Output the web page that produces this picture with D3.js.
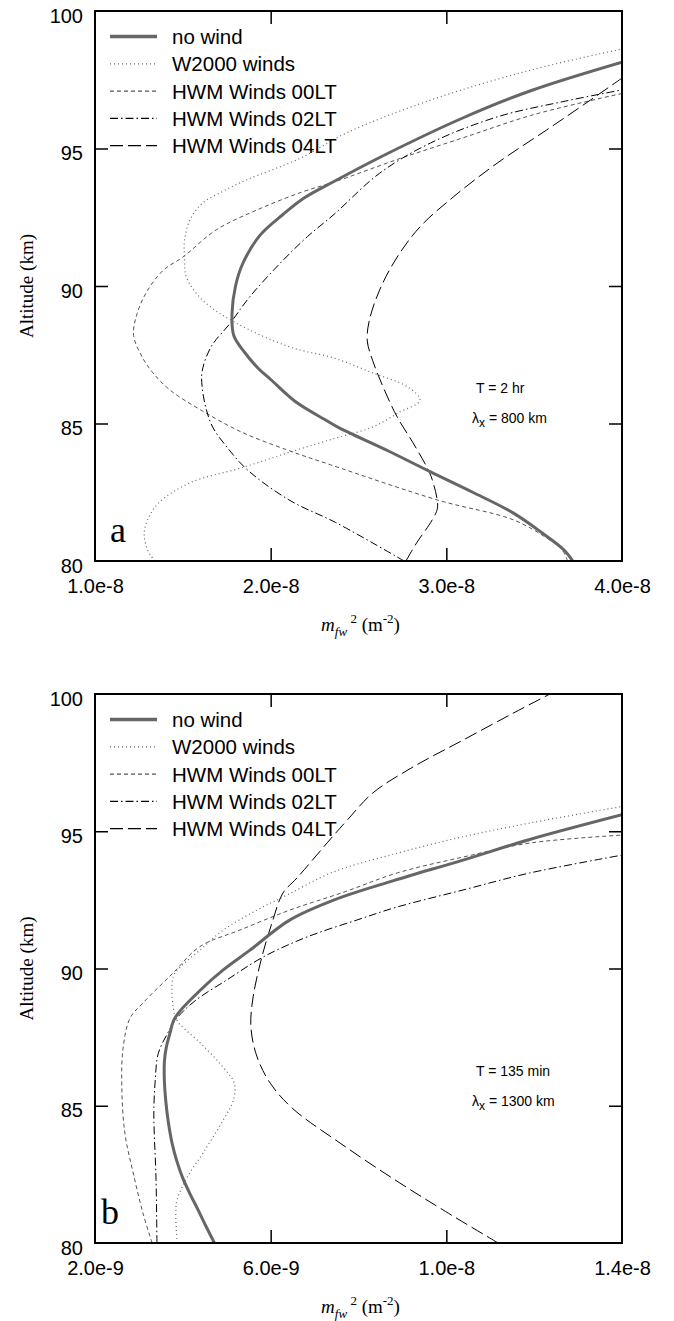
<!DOCTYPE html>
<html><head><meta charset="utf-8">
<script src="https://cdn.jsdelivr.net/npm/d3@7"></script>
<style>body{margin:0;background:#fff}svg{display:block}</style>
</head><body>
<script>
// ---------------- DATA (altitude km, m_fw^2 mantissa) ----------------
const seriesNames = ["no wind", "W2000 winds", "HWM Winds 00LT", "HWM Winds 02LT", "HWM Winds 04LT"];
const yTicks = [80, 85, 90, 95, 100];
const yTickLabels = ["80", "85", "90", "95", "100"];

// Panel a: values in units of 1e-8 m^-2
const aXTicks = [1, 2, 3, 4];
const aXTickLabels = ["1.0e-8", "2.0e-8", "3.0e-8", "4.0e-8"];
const aNoWind = [[80,3.72],[80.4,3.67],[81,3.55],[81.75,3.38],[82.5,3.15],[83.24,2.91],[84,2.67],[84.84,2.39],[85.1,2.32],[85.8,2.14],[86.6,2.0],[87.0,1.93],[87.6,1.85],[88.2,1.79],[89,1.78],[90,1.80],[90.8,1.84],[91.85,1.94],[92.6,2.07],[93.2,2.19],[93.8,2.36],[94.8,2.66],[96.1,3.09],[97.1,3.48],[98.14,4.0]];
const aW2000 = [[80,1.34],[80.4,1.30],[81,1.28],[81.5,1.30],[82.1,1.36],[82.84,1.54],[83.4,1.84],[83.96,2.11],[84.47,2.37],[84.87,2.58],[85.4,2.73],[85.85,2.85],[86.33,2.78],[86.84,2.58],[87.38,2.36],[87.78,2.11],[88.7,1.79],[89.5,1.61],[90.33,1.52],[91.0,1.51],[91.67,1.51],[92.4,1.54],[93.0,1.61],[93.45,1.73],[93.85,1.86],[94.65,2.17],[95.56,2.43],[96.76,2.91],[97.85,3.48],[98.62,4.0]];
const aHWM00 = [[80,3.69],[80.4,3.66],[80.8,3.58],[81.5,3.38],[82.2,2.96],[83.5,2.34],[84.0,2.11],[84.7,1.83],[85.5,1.6],[86.2,1.43],[86.84,1.33],[87.4,1.27],[88.2,1.22],[89.0,1.24],[89.85,1.30],[90.58,1.39],[91.05,1.5],[92.04,1.69],[92.76,1.92],[93.42,2.18],[93.8,2.37],[94.6,2.72],[95.4,3.1],[96.2,3.48],[96.8,3.86],[97.0,4.0]];
const aHWM02 = [[80,2.76],[81.4,2.37],[82.2,2.11],[83.3,1.87],[84.15,1.75],[84.87,1.67],[85.6,1.63],[86.33,1.61],[86.9,1.61],[87.78,1.66],[88.65,1.77],[89.6,1.88],[90.8,2.05],[91.8,2.21],[92.6,2.36],[94.1,2.62],[95.2,2.91],[96.15,3.29],[96.7,3.66],[97.13,4.0]];
const aHWM04 = [[80,2.77],[80.65,2.83],[81.5,2.92],[81.96,2.95],[82.95,2.92],[83.4,2.89],[84.3,2.81],[85.24,2.72],[86.33,2.64],[87.3,2.58],[88.0,2.55],[88.7,2.56],[89.85,2.62],[91.05,2.72],[92.15,2.85],[93.24,3.04],[94.47,3.29],[95.67,3.57],[96.76,3.82],[97.56,4.0]];

// Panel b: values in units of 1e-9 m^-2
const bXTicks = [2, 6, 10, 14];
const bXTickLabels = ["2.0e-9", "6.0e-9", "1.0e-8", "1.4e-8"];
const bNoWind = [[80,4.72],[80.6,4.53],[81.2,4.35],[81.8,4.16],[82.4,3.99],[83.0,3.86],[83.6,3.76],[84.4,3.67],[85.2,3.61],[85.9,3.58],[86.6,3.58],[87.1,3.62],[87.6,3.70],[88.2,3.82],[89.2,4.39],[89.95,4.92],[90.67,5.53],[91.77,6.44],[92.5,7.45],[93.2,8.8],[93.95,10.38],[94.7,11.9],[95.6,14]];
const bW2000 = [[80,3.87],[81.1,3.84],[81.57,3.87],[82.4,4.1],[83.28,4.46],[84.48,4.92],[85.2,5.15],[85.83,5.17],[86.4,4.92],[87.3,4.39],[88.1,3.87],[88.6,3.78],[89.7,3.78],[90.05,3.94],[90.67,4.39],[91.4,4.92],[92.13,5.69],[92.7,6.4],[93.5,7.4],[94.2,8.88],[94.8,10.38],[95.3,11.9],[95.9,14]];
const bHWM00 = [[80,3.3],[81.1,3.09],[82.55,2.87],[84.0,2.68],[85.7,2.61],[87.1,2.64],[88.2,2.8],[88.74,3.09],[89.84,3.78],[90.8,4.39],[91.4,5.3],[92.13,6.44],[92.8,7.7],[93.48,8.88],[94.06,10.38],[94.57,11.9],[94.86,14]];
const bHWM02 = [[80,3.41],[82.3,3.39],[84.7,3.34],[85.9,3.37],[86.9,3.44],[87.6,3.64],[88.2,3.87],[88.85,4.3],[89.58,5.0],[90.42,5.83],[91.15,6.83],[91.77,7.97],[92.24,8.88],[92.86,10.38],[93.48,11.9],[94.13,14]];
const bHWM04 = [[80,11.18],[81.15,9.98],[82.3,8.83],[83.64,7.58],[84.9,6.5],[85.8,6.0],[86.78,5.69],[87.87,5.55],[88.96,5.6],[90.42,5.8],[91.66,6.03],[92.75,6.28],[93.3,6.6],[94.75,7.38],[95.4,7.74],[96.4,8.33],[97.34,9.24],[98.32,10.38],[99.3,11.52],[100,12.36]];

// ---------------- STYLE / LAYOUT ----------------
const styles = [
  {stroke:"#666", width:3, dash:null},
  {stroke:"#666", width:1.2, dash:"1,3"},
  {stroke:"#555", width:1, dash:"4,3"},
  {stroke:"#000", width:1, dash:"8,3,1.5,3"},
  {stroke:"#000", width:1, dash:"13,5"}
];
const panels = [
  {top:11, bottom:561, xDomain:[1,4], xTicks:aXTicks, xLabels:aXTickLabels, series:[aNoWind,aW2000,aHWM00,aHWM02,aHWM04], letter:"a", letterX:110, T:"T = 2 hr", lam:"800 km"},
  {top:694, bottom:1243, xDomain:[2,14], xTicks:bXTicks, xLabels:bXTickLabels, series:[bNoWind,bW2000,bHWM00,bHWM02,bHWM04], letter:"b", letterX:101, T:"T = 135 min", lam:"1300 km"}
];
const left = 95, right = 622;
const sans = "'Liberation Sans', Arial, Helvetica, sans-serif";
const serif = "'Liberation Serif', 'Times New Roman', serif";

const svg = d3.select("body").append("svg").attr("width",674).attr("height",1321);

panels.forEach((p, pi) => {
  const x = d3.scaleLinear().domain(p.xDomain).range([left, right]);
  const y = d3.scaleLinear().domain([80,100]).range([p.bottom, p.top]);
  const g = svg.append("g");
  const clipId = "clip"+pi;
  g.append("clipPath").attr("id",clipId).append("rect")
    .attr("x",left).attr("y",p.top).attr("width",right-left).attr("height",p.bottom-p.top);

  // curves
  const line = d3.line().x(d=>x(d[1])).y(d=>y(d[0])).curve(d3.curveCatmullRom.alpha(0.5));
  const cg = g.append("g").attr("clip-path",`url(#${clipId})`);
  [1,2,3,4,0].forEach(i => {
    const s = styles[i];
    cg.append("path").datum(p.series[i]).attr("d",line)
      .attr("fill","none").attr("stroke",s.stroke).attr("stroke-width",s.width)
      .attr("stroke-dasharray",s.dash).attr("stroke-linejoin","round");
  });

  // inner ticks
  const xInner = p.xTicks.slice(1,-1);
  const yInner = yTicks.slice(1,-1);
  const tickAxes = [
    g.append("g").attr("transform",`translate(0,${p.bottom})`).call(d3.axisBottom(x).tickValues(xInner).tickSize(-13).tickFormat("")),
    g.append("g").attr("transform",`translate(0,${p.top})`).call(d3.axisTop(x).tickValues(xInner).tickSize(-13).tickFormat("")),
    g.append("g").attr("transform",`translate(${left},0)`).call(d3.axisLeft(y).tickValues(yInner).tickSize(-13).tickFormat("")),
    g.append("g").attr("transform",`translate(${right},0)`).call(d3.axisRight(y).tickValues(yInner).tickSize(-13).tickFormat(""))
  ];
  tickAxes.forEach(a => { a.select(".domain").remove(); a.selectAll("line").attr("stroke","#000").attr("stroke-width",1.5); });

  // tick labels
  const xl = g.append("g").attr("transform",`translate(0,${p.bottom})`)
    .call(d3.axisBottom(x).tickValues(p.xTicks).tickFormat((d,i)=>p.xLabels[i]).tickSize(0).tickPadding(18));
  xl.select(".domain").remove();
  xl.selectAll("text").attr("font-family",sans).attr("font-size",20).attr("fill","#000");
  const yl = g.append("g").attr("transform",`translate(${left},0)`)
    .call(d3.axisLeft(y).tickValues(yTicks).tickFormat((d,i)=>yTickLabels[i]).tickSize(0).tickPadding(12));
  yl.select(".domain").remove();
  yl.selectAll("text").attr("font-family",sans).attr("font-size",20).attr("fill","#000").attr("dy","0.55em");

  // frame
  g.append("rect").attr("x",left).attr("y",p.top).attr("width",right-left).attr("height",p.bottom-p.top)
    .attr("fill","none").attr("stroke","#000").attr("stroke-width",2);

  // legend
  const lg = g.append("g");
  seriesNames.forEach((name,i) => {
    const s = styles[i];
    const ly = p.top + 25.5 + i*27.3;
    lg.append("line").attr("x1",110).attr("x2",157).attr("y1",ly).attr("y2",ly)
      .attr("stroke",s.stroke).attr("stroke-width",s.width===3?3.5:1.3).attr("stroke-dasharray",s.dash);
    lg.append("text").attr("x",172).attr("y",ly+7.5).text(name)
      .attr("font-family",sans).attr("font-size",20.5).attr("fill","#000");
  });

  // annotations
  g.append("text").attr("x",476).attr("y",p.top+382).text(p.T)
    .attr("font-family",sans).attr("font-size",14);
  const lt = g.append("text").attr("x",472).attr("y",p.top+412).attr("font-family",sans).attr("font-size",14);
  lt.append("tspan").text("λ");
  lt.append("tspan").attr("dy",4).attr("font-size",12).text("x");
  lt.append("tspan").attr("dy",-4).text(" = " + p.lam);

  // panel letter
  g.append("text").attr("x",p.letterX).attr("y",p.bottom-19).text(p.letter)
    .attr("font-family",serif).attr("font-size",36);

  // y axis title
  g.append("text").attr("transform",`translate(33,${(p.top+p.bottom)/2}) rotate(-90)`)
    .attr("text-anchor","middle").attr("font-family",serif).attr("font-size",19).text("Altitude (km)");

  // x axis title
  const xt = g.append("text").attr("x",(left+right)/2+2).attr("y",p.bottom+70)
    .attr("text-anchor","middle").attr("font-family",serif).attr("font-size",19);
  xt.append("tspan").attr("font-style","italic").text("m");
  xt.append("tspan").attr("font-style","italic").attr("font-size",13).attr("dy",5).text("fw");
  xt.append("tspan").attr("font-size",13).attr("dy",-13).text(" 2");
  xt.append("tspan").attr("dy",8).text(" (m");
  xt.append("tspan").attr("font-size",13).attr("dy",-8).text("-2");
  xt.append("tspan").attr("dy",8).text(")");
});
</script>
</body></html>
